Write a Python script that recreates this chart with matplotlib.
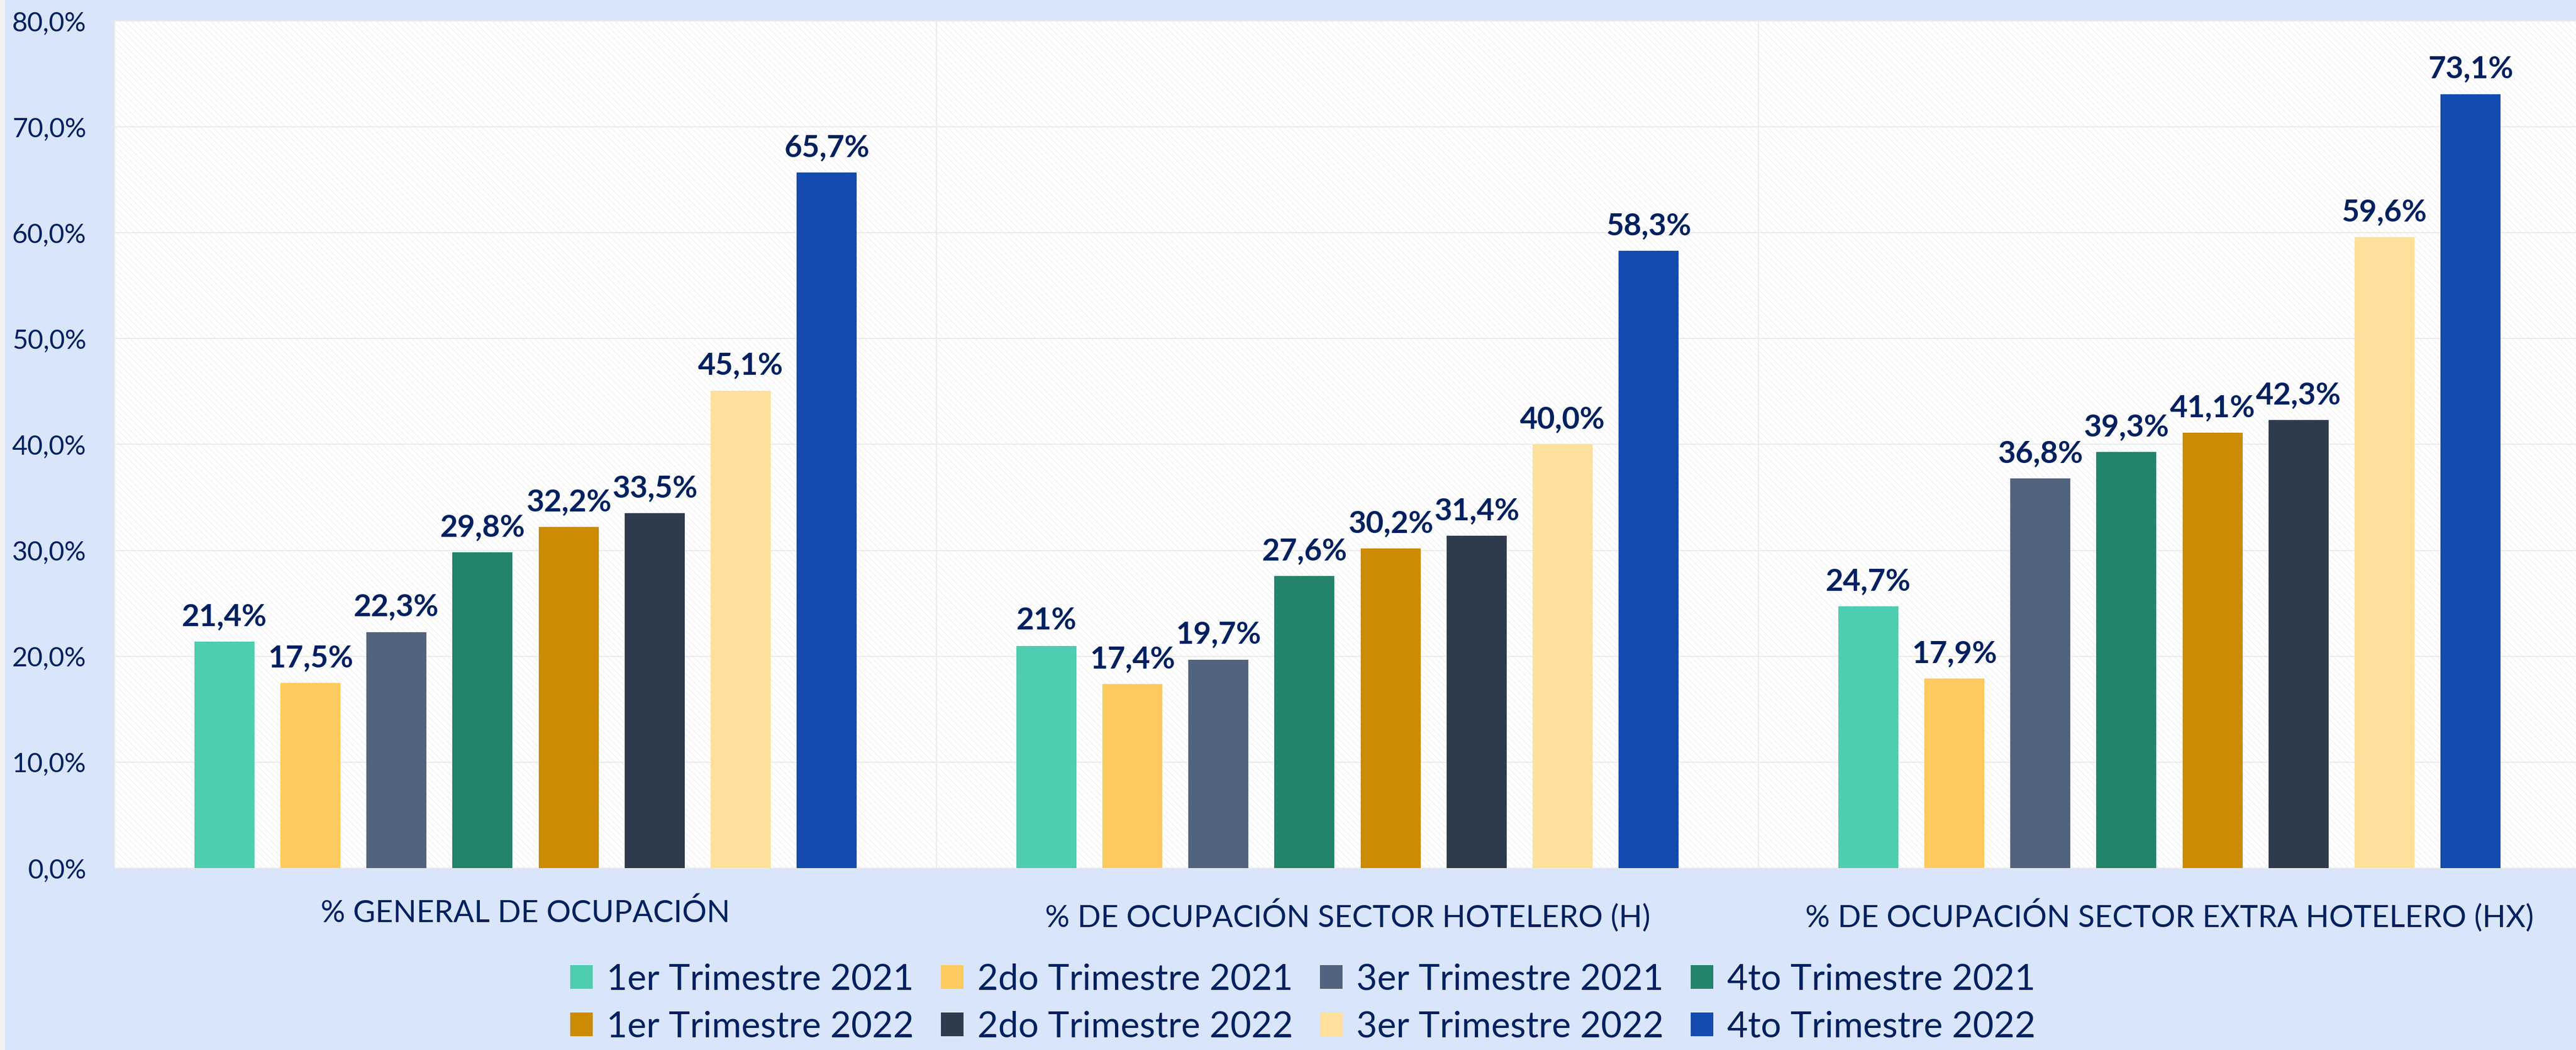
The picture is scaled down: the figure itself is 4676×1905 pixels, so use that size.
import matplotlib
matplotlib.use("Agg")
import matplotlib.pyplot as plt
from matplotlib.patches import Patch, Rectangle
import numpy as np

plt.rcParams['font.family'] = ['Lato', 'DejaVu Sans']
plt.rcParams['hatch.linewidth'] = 1.0

# ---------------- data ----------------
categories = ["% GENERAL DE OCUPACIÓN",
              "% DE OCUPACIÓN SECTOR HOTELERO (H)",
              "% DE OCUPACIÓN SECTOR EXTRA HOTELERO (HX)"]

series_names = ["1er Trimestre 2021", "2do Trimestre 2021", "3er Trimestre 2021", "4to Trimestre 2021",
                "1er Trimestre 2022", "2do Trimestre 2022", "3er Trimestre 2022", "4to Trimestre 2022"]

t1_2021 = [21.4, 21.0, 24.7]
t2_2021 = [17.5, 17.4, 17.9]
t3_2021 = [22.3, 19.7, 36.8]
t4_2021 = [29.8, 27.6, 39.3]
t1_2022 = [32.2, 30.2, 41.1]
t2_2022 = [33.5, 31.4, 42.3]
t3_2022 = [45.1, 40.0, 59.6]
t4_2022 = [65.7, 58.3, 73.1]

lab_t1_2021 = ["21,4%", "21%", "24,7%"]
lab_t2_2021 = ["17,5%", "17,4%", "17,9%"]
lab_t3_2021 = ["22,3%", "19,7%", "36,8%"]
lab_t4_2021 = ["29,8%", "27,6%", "39,3%"]
lab_t1_2022 = ["32,2%", "30,2%", "41,1%"]
lab_t2_2022 = ["33,5%", "31,4%", "42,3%"]
lab_t3_2022 = ["45,1%", "40,0%", "59,6%"]
lab_t4_2022 = ["65,7%", "58,3%", "73,1%"]

yticks = [0, 10, 20, 30, 40, 50, 60, 70, 80]
ytick_labels = ["0,0%", "10,0%", "20,0%", "30,0%", "40,0%", "50,0%", "60,0%", "70,0%", "80,0%"]

series_values = [t1_2021, t2_2021, t3_2021, t4_2021, t1_2022, t2_2022, t3_2022, t4_2022]
series_labels = [lab_t1_2021, lab_t2_2021, lab_t3_2021, lab_t4_2021,
                 lab_t1_2022, lab_t2_2022, lab_t3_2022, lab_t4_2022]

colors = ["#4ECDB0", "#FDCA60", "#52637F", "#23836B",
          "#CC8B04", "#2E3B4D", "#FEDF9B", "#134BAE"]

NAVY = "#002060"
BG = "#D9E5FA"
GRID = "#EBEBEB"

# ---------------- figure ----------------
W, H = 4676, 1905
fig = plt.figure(figsize=(W / 100, H / 100), dpi=100)
fig.patch.set_facecolor(BG)
fig.patches.append(Rectangle((0, 0), 9 / W, 1, transform=fig.transFigure,
                             facecolor="#F2F2F2", edgecolor="none", zorder=0))

left = 208 / W
bottom = 1 - 1575 / H
top = 1 - 38 / H
right = (208 + 3 * 1492) / W
ax = fig.add_axes([left, bottom, right - left, top - bottom])
ax.set_facecolor("white")

# faint hatched plot area background
bgpatch = Rectangle((0, 0), 1, 1, transform=ax.transAxes, facecolor="white",
                    edgecolor="#F1F1F1", hatch="\\\\\\", linewidth=0, zorder=0)
ax.add_patch(bgpatch)

x = np.arange(len(categories))
slot = 0.1047
bw = 0.073
n = len(series_values)
for i, (vals, labs, col, name) in enumerate(zip(series_values, series_labels, colors, series_names)):
    xs = x + (i - (n - 1) / 2) * slot
    bars = ax.bar(xs, vals, width=bw, color=col, edgecolor="none", zorder=3, label=name)
    for b, lab in zip(bars, labs):
        ax.annotate(lab, (b.get_x() + b.get_width() / 2, b.get_height()),
                    xytext=(0, 21), textcoords="offset points",
                    ha="center", va="baseline", fontsize=40, fontweight="bold",
                    color=NAVY, zorder=4)

ax.set_xlim(-0.5, 2.5)
ax.set_ylim(0, 80)
ax.set_yticks(yticks)
ax.set_yticklabels(ytick_labels)
ax.set_xticks(x)
ax.set_xticklabels(categories)
ax.tick_params(axis="y", length=0, pad=37, labelsize=35, labelcolor=NAVY)
ax.tick_params(axis="x", length=0, pad=40, labelsize=40, labelcolor=NAVY)

ax.grid(axis="y", color=GRID, linewidth=1.5, zorder=1)
for xv in [0.5, 1.5]:
    ax.axvline(xv, color=GRID, linewidth=1.5, zorder=1)
for s in ax.spines.values():
    s.set_color(GRID)
    s.set_linewidth(1.5)

# legend: rows of 4 (matplotlib fills column-wise)
handles = [Patch(facecolor=c, edgecolor="none") for c in colors]
order = [0, 4, 1, 5, 2, 6, 3, 7]
leg = fig.legend([handles[k] for k in order], [series_names[k] for k in order],
                 loc="center", bbox_to_anchor=(0.5058, 1 - 1820 / H), ncol=4,
                 frameon=False, fontsize=47, handlelength=0.63, handleheight=0.63,
                 handletextpad=0.38, columnspacing=0.75, labelspacing=0.42,
                 borderpad=0, borderaxespad=0)
for t in leg.get_texts():
    t.set_color(NAVY)

fig.savefig("out.png", dpi=100, facecolor=BG)
